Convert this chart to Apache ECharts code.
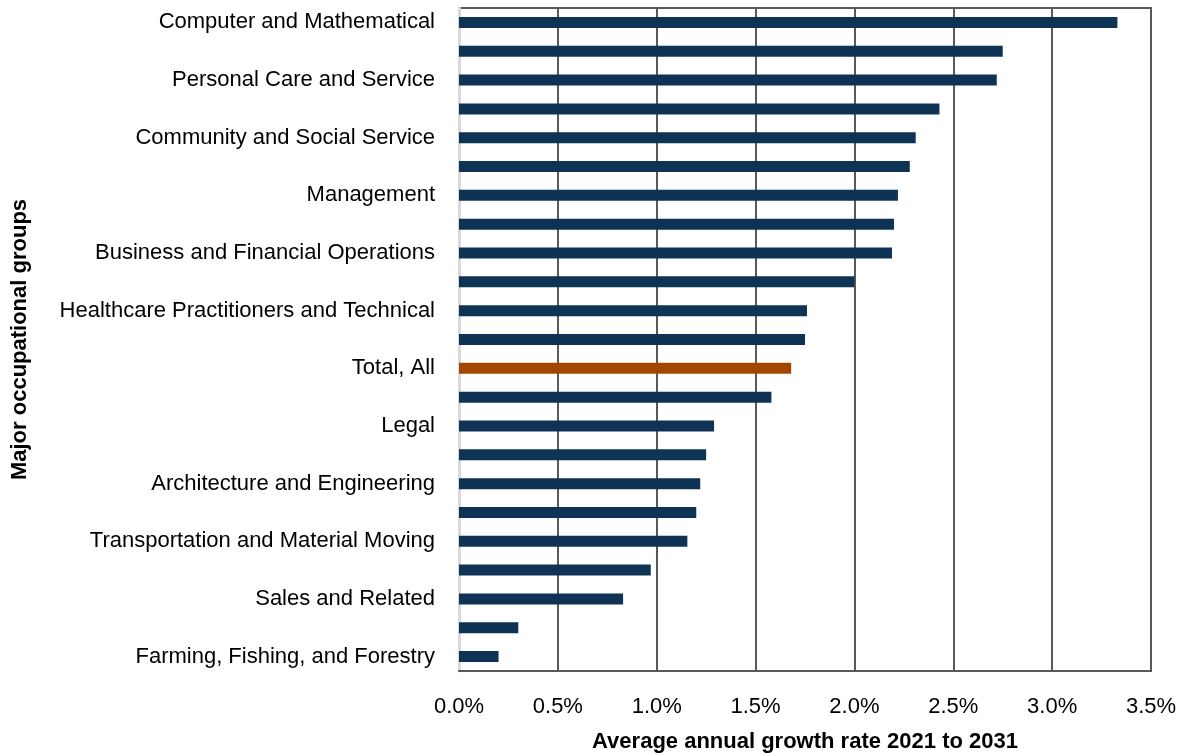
<!DOCTYPE html>
<html>
<head>
<meta charset="utf-8">
<script src="https://cdn.jsdelivr.net/npm/echarts@6/dist/echarts.min.js"></script>
<style>
  html, body { margin: 0; padding: 0; background: #fff; }
  #chart { width: 1180px; height: 756px; }
</style>
</head>
<body>
<div id="chart"></div>
<script>
// occupational groups, top to bottom (only every other one is labelled in the chart)
var groups = [
  "Computer and Mathematical",
  "Healthcare Support",
  "Personal Care and Service",
  "Food Preparation and Serving Related",
  "Community and Social Service",
  "Arts, Design, Entertainment, Sports, and Media",
  "Management",
  "Life, Physical, and Social Science",
  "Business and Financial Operations",
  "Educational Instruction and Library",
  "Healthcare Practitioners and Technical",
  "Protective Service",
  "Total, All",
  "Construction and Extraction",
  "Legal",
  "Installation, Maintenance, and Repair",
  "Architecture and Engineering",
  "Building and Grounds Cleaning and Maintenance",
  "Transportation and Material Moving",
  "Production",
  "Sales and Related",
  "Office and Administrative Support",
  "Farming, Fishing, and Forestry"
];
// average annual growth rate 2021 to 2031, percent
var growth = [3.33, 2.75, 2.72, 2.43, 2.31, 2.28, 2.22, 2.20, 2.19, 2.00, 1.76, 1.75,
              1.68, 1.58, 1.29, 1.25, 1.22, 1.20, 1.155, 0.97, 0.83, 0.30, 0.20];
var xTicks = [0, 0.5, 1.0, 1.5, 2.0, 2.5, 3.0, 3.5];

var chart = echarts.init(document.getElementById("chart"));
var font = "'Liberation Sans', Arial, sans-serif";

var option = {
  animation: false,
  grid: {
    left: 459, right: 29, top: 8, bottom: 85,
    outerBoundsMode: "none",
    show: true, borderColor: "#595959", borderWidth: 2
  },
  xAxis: {
    type: "value",
    min: xTicks[0],
    max: xTicks[xTicks.length - 1],
    interval: 0.5,
    name: "Average annual growth rate 2021 to 2031",
    nameLocation: "middle",
    nameGap: 60,
    nameTextStyle: { fontFamily: font, fontSize: 22, fontWeight: "bold", color: "#000" },
    axisLine: { show: true, lineStyle: { color: "#595959", width: 2 } },
    axisTick: { show: false },
    axisLabel: {
      fontFamily: font, fontSize: 22, color: "#000", margin: 25,
      formatter: function (v) { return v.toFixed(1) + "%"; }
    },
    splitLine: { show: true, lineStyle: { color: "#595959", width: 2 } }
  },
  yAxis: {
    type: "category",
    data: groups,
    inverse: true,
    name: "Major occupational groups",
    nameLocation: "middle",
    nameRotate: 90,
    nameGap: 428,
    nameTextStyle: { fontFamily: font, fontSize: 22, fontWeight: "bold", color: "#000" },
    axisLine: { show: true, lineStyle: { color: "#d9d9d9", width: 3 } },
    axisTick: { show: false },
    axisLabel: { interval: 1, fontFamily: font, fontSize: 22, color: "#000", margin: 24 }
  },
  series: [{
    type: "bar",
    barWidth: 11,
    data: growth.map(function (v, i) {
      return {
        value: v,
        itemStyle: { color: groups[i] === "Total, All" ? "#a34700" : "#0f3355" }
      };
    })
  }]
};
chart.setOption(option);
</script>
</body>
</html>
